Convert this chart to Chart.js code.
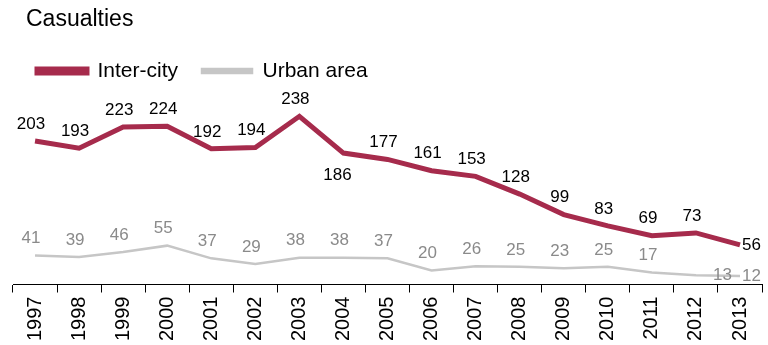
<!DOCTYPE html>
<html>
<head>
<meta charset="utf-8">
<script src="https://cdn.jsdelivr.net/npm/chart.js@4"></script>
<style>
  html, body { margin: 0; padding: 0; background: #fff; }
  #wrap { width: 768px; height: 345px; }
</style>
</head>
<body>
<div id="wrap"><canvas id="chart"></canvas></div>
<script>
// data
const years = ["1997","1998","1999","2000","2001","2002","2003","2004","2005","2006","2007","2008","2009","2010","2011","2012","2013"];
const interCity = [203,193,223,224,192,194,238,186,177,161,153,128,99,83,69,73,56];
const urbanArea = [41,39,46,55,37,29,38,38,37,20,26,25,23,25,17,13,12];

// where each value label sits: a = above, b = below, r = right
const interCityLabelPos = ["a","a","a","a","a","a","a","b","a","a","a","a","a","a","a","a","r"];
const urbanLabelPos = ["a","a","a","a","a","a","a","a","a","a","a","a","a","a","a","r","r"];

const RED = "#a62b4c";
const GREY = "#c6c6c6";
const FONT = "'Liberation Sans', Arial, sans-serif";

// value labels next to points
const valueLabels = {
    id: "valueLabels",
    afterDatasetsDraw(chart) {
        const ctx = chart.ctx;
        ctx.save();
        ctx.font = "17px " + FONT;
        chart.data.datasets.forEach((ds, i) => {
            const meta = chart.getDatasetMeta(i);
            const pos = ds.labelPos;
            meta.data.forEach((pt, j) => {
                const p = pos[j];
                ctx.fillStyle = ds.labelColor;
                let x = pt.x - 4, y = pt.y - 17;
                ctx.textAlign = "center";
                ctx.textBaseline = "middle";
                if (p === "b") { x = pt.x - 6; y = pt.y + 22; }
                if (p === "r") {
                    ctx.textAlign = "left";
                    x = pt.x + (i === 1 && j === 15 ? 17 : 2);
                    y = pt.y;
                }
                ctx.fillText(ds.data[j], x, y);
            });
        });
        ctx.restore();
    }
};

// nudge the title right, as in the source picture
const titleShift = {
    id: "titleShift",
    afterLayout(chart) {
        chart.titleBlock.left += 13;
        chart.titleBlock.right += 13;
    }
};

new Chart(document.getElementById("chart"), {
    type: "line",
    data: {
        labels: years,
        datasets: [{
            label: "Inter-city",
            data: interCity,
            borderColor: RED,
            backgroundColor: RED,
            borderWidth: 5,
            pointRadius: 0,
            labelPos: interCityLabelPos,
            labelColor: "#000"
        }, {
            label: "Urban area",
            data: urbanArea,
            borderColor: GREY,
            backgroundColor: GREY,
            borderWidth: 2.5,
            pointRadius: 0,
            labelPos: urbanLabelPos,
            labelColor: "#8a8a8a"
        }]
    },
    options: {
        responsive: true,
        maintainAspectRatio: false,
        animation: false,
        layout: { padding: { left: 13, right: -6, top: 0, bottom: 0 } },
        scales: {
            x: {
                offset: true,
                grid: {
                    offset: true,
                    drawOnChartArea: false,
                    drawTicks: true,
                    tickLength: 8,
                    color: "#000"
                },
                border: { color: "#000", width: 1 },
                ticks: {
                    color: "#000",
                    font: { size: 20, family: FONT },
                    maxRotation: 90,
                    minRotation: 90,
                    padding: 4
                }
            },
            y: {
                display: false,
                min: 0,
                max: 273
            }
        },
        plugins: {
            title: {
                display: true,
                text: "Casualties",
                align: "start",
                color: "#000",
                font: { size: 23, weight: "normal", family: FONT },
                padding: { top: 6, bottom: 3 }
            },
            legend: {
                align: "start",
                labels: {
                    color: "#000",
                    font: { size: 21, family: FONT },
                    boxWidth: 50,
                    boxHeight: 4,
                    padding: 24
                }
            },
            tooltip: { enabled: false }
        }
    },
    plugins: [valueLabels, titleShift]
});
</script>
</body>
</html>
